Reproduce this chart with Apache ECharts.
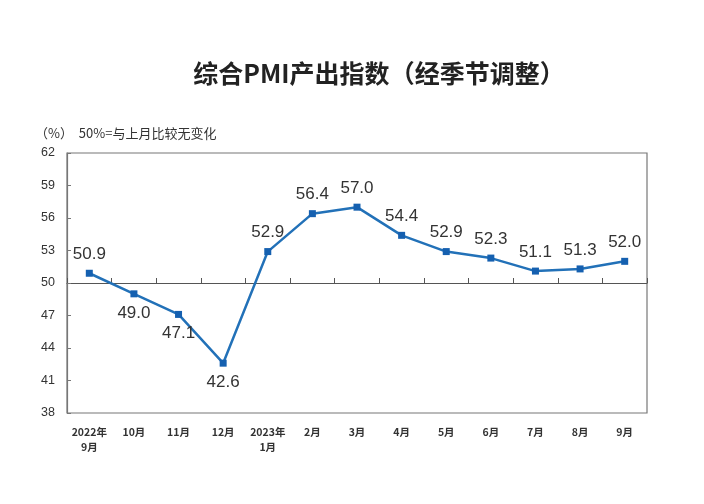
<!DOCTYPE html>
<html>
<head>
<meta charset="utf-8">
<script src="https://cdn.jsdelivr.net/npm/echarts@6/dist/echarts.min.js"></script>
<style>
  html,body{margin:0;padding:0;background:#fff;}
  #main{width:704px;height:504px;}
</style>
</head>
<body>
<div id="main"></div>
<script>
// 月份
var months = ['2022年\n9月','10月','11月','12月','2023年\n1月','2月','3月','4月','5月','6月','7月','8月','9月']
// 综合PMI产出指数
var pmiValues = [50.9, 49.0, 47.1, 42.6, 52.9, 56.4, 57.0, 54.4, 52.9, 52.3, 51.1, 51.3, 52.0]
// 标签在点下方的月份
var labelBelow = [false, true, true, true, false, false, false, false, false, false, false, false, false]
var yTicks = {min:38, max:62, step:3}

var chart = echarts.init(document.getElementById('main'))

var seriesData = pmiValues.map((v,i)=>{
  return {
    value:v,
    label:{position: labelBelow[i] ? 'bottom' : 'top'}
  }
})

var option = {
  animation:false,
  backgroundColor:'#fff',
  title:[{
    text:'综合PMI产出指数（经季节调整）',
    left:374,
    textAlign:'center',
    top:56,
    textStyle:{
      fontFamily:'Noto Sans CJK SC',
      fontSize:25,
      fontWeight:'bold',
      color:'#222'
    }
  },{
    text:'（%）  50%=与上月比较无变化',
    left:30,
    top:122,
    textStyle:{
      fontFamily:'Noto Sans CJK SC',
      fontSize:13,
      fontWeight:'normal',
      color:'#333'
    }
  }],
  grid:{
    left:67,
    right:57,
    top:153,
    bottom:91,
    show:true,
    borderColor:'#777',
    borderWidth:1.2
  },
  xAxis:[{
    type:'category',
    data:months,
    position:'bottom',
    axisLine:{show:false},
    axisTick:{show:false},
    axisLabel:{
      interval:0,
      margin:12,
      fontSize:10.5,
      fontWeight:'bold',
      color:'#333',
      lineHeight:15,
      fontFamily:'Noto Sans CJK SC'
    }
  },{
    // 50 处的横线
    type:'category',
    data:months,
    position:'bottom',
    offset:-130,
    axisLine:{lineStyle:{color:'#555',width:1.2}},
    axisTick:{show:true,inside:true,length:5,interval:0,lineStyle:{color:'#555'}},
    axisLabel:{show:false}
  }],
  yAxis:{
    type:'value',
    min:yTicks.min,
    max:yTicks.max,
    interval:yTicks.step,
    axisLine:{show:true,lineStyle:{color:'#777',width:1.2}},
    axisTick:{show:true,inside:true,length:4,lineStyle:{color:'#777'}},
    splitLine:{show:false},
    axisLabel:{
      margin:12,
      fontSize:12.5,
      color:'#333',
      fontFamily:'Arial'
    }
  },
  series:[{
    type:'line',
    data:seriesData,
    xAxisIndex:0,
    symbol:'rect',
    symbolSize:7,
    lineStyle:{color:'#2271b8',width:2.5},
    itemStyle:{color:'#1560b0'},
    label:{
      show:true,
      distance:7,
      fontSize:17,
      fontFamily:'Arial',
      color:'#333',
      formatter:(p)=>p.value.toFixed(1)
    }
  }]
}

chart.setOption(option)
</script>
</body>
</html>
